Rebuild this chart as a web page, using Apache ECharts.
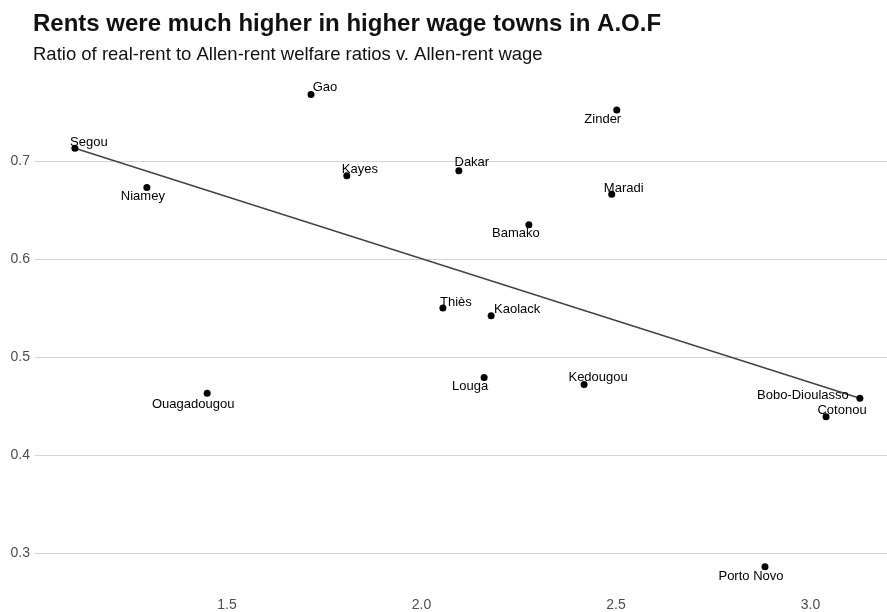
<!DOCTYPE html>
<html>
<head>
<meta charset="utf-8">
<script src="https://cdn.jsdelivr.net/npm/echarts@6/dist/echarts.min.js"></script>
<style>
html,body{margin:0;padding:0;background:#fff;}
#chart{width:887px;height:612px;}
</style>
</head>
<body>
<div id="chart"></div>
<script>
const towns = ["Segou","Niamey","Ouagadougou","Gao","Kayes","Dakar","Thiès","Kaolack","Louga","Bamako","Kedougou","Maradi","Zinder","Bobo-Dioulasso","Cotonou","Porto Novo"];
const wage  = [1.109,1.294,1.449,1.716,1.808,2.096,2.055,2.179,2.161,2.276,2.418,2.489,2.502,3.127,3.040,2.883];
const ratio = [0.713,0.673,0.463,0.768,0.685,0.690,0.550,0.542,0.479,0.635,0.472,0.666,0.752,0.458,0.439,0.286];
const fitX = [1.109, 3.127];
const fitY = [0.713, 0.458];
const xTicks = [1.5, 2.0, 2.5, 3.0];
const yTicks = [0.3, 0.4, 0.5, 0.6, 0.7];

// label placement (style only): offset of label centre from the dot centre
const labelOffsets = {
  "Segou":[14,-6],"Niamey":[-4,9],"Ouagadougou":[-14,11],"Gao":[14,-7],
  "Kayes":[13,-6],"Dakar":[13,-8],"Thiès":[13,-6],"Kaolack":[26,-6],
  "Louga":[-14,9],"Bamako":[-13,9],"Kedougou":[14,-7],"Maradi":[12,-6],
  "Zinder":[-14,9],"Bobo-Dioulasso":[-57,-3],"Cotonou":[16,-6],"Porto Novo":[-14,10]
};
const SYM = 7;

const chart = echarts.init(document.getElementById('chart'), null, {renderer:'canvas'});
const font = "'Liberation Sans', Arial, Helvetica, sans-serif";

const points = towns.map((t,i)=>{
  const o = labelOffsets[t];
  return {
    name:t, value:[wage[i], ratio[i]],
    label:{position:[SYM/2 + o[0], SYM/2 + o[1]]}
  };
});

chart.setOption({
  animation:false,
  backgroundColor:'#ffffff',
  textStyle:{fontFamily:font},
  title:[
    {text:'Rents were much higher in higher wage towns in A.O.F', left:28, top:7,
     textStyle:{fontFamily:font, fontWeight:'bold', fontSize:24, color:'#111'}},
    {text:'Ratio of real-rent to Allen-rent welfare ratios v. Allen-rent wage', left:28, top:40,
     textStyle:{fontFamily:font, fontWeight:'normal', fontSize:18.5, color:'#111'}}
  ],
  grid:{left:35, right:0, top:80, bottom:17},
  xAxis:{
    type:'value', min:1.0064, max:3.1967,
    axisLine:{show:false},
    axisTick:{show:false, customValues:xTicks},
    axisLabel:{customValues:xTicks, formatter:v=>v.toFixed(1), fontSize:14, color:'#4d4d4d', margin:3, fontFamily:font},
    splitLine:{show:false}
  },
  yAxis:{
    type:'value', min:0.2571, max:0.7827,
    axisLine:{show:false},
    axisTick:{show:false, customValues:yTicks},
    axisLabel:{customValues:yTicks, formatter:v=>v.toFixed(1), fontSize:14, color:'#4d4d4d', margin:5, fontFamily:font},
    splitLine:{show:true, lineStyle:{color:'#d4d4d4', width:1}}
  },
  series:[
    {
      type:'line', data:fitX.map((x,i)=>[x,fitY[i]]),
      symbol:'none', lineStyle:{color:'#444444', width:1.6}, z:2, silent:true
    },
    {
      type:'scatter', data:points, symbolSize:SYM,
      itemStyle:{color:'#000', opacity:1}, z:3,
      label:{show:true, formatter:p=>p.name, color:'#000', fontSize:13,
             fontFamily:font, align:'center', verticalAlign:'middle'},
      labelLayout:{hideOverlap:false}
    }
  ]
});
</script>
</body>
</html>
